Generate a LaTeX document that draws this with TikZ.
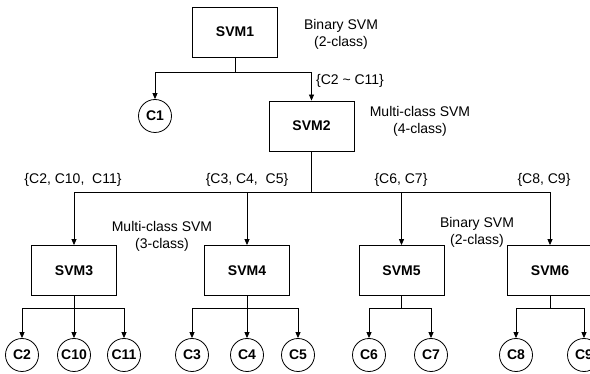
\documentclass[tikz,border=0pt]{standalone}
\usepackage{fontspec}
\setmainfont{Liberation Sans}
\usetikzlibrary{arrows.meta}
\begin{document}
\begin{tikzpicture}[x=1pt,y=-1pt,
  line width=0.8pt,
  svmbox/.style={draw, minimum width=85pt, minimum height=50pt, inner sep=0pt, font=\fontsize{14}{17}\selectfont\bfseries},
  cls/.style={draw, circle, minimum size=33pt, inner sep=0pt, font=\fontsize{14}{17}\selectfont\bfseries},
  lbl/.style={font=\fontsize{14}{17}\selectfont, inner sep=0pt, align=center},
  arr/.style={-{Triangle[length=6pt,width=5pt]}}]
\useasboundingbox (0,0) rectangle (590,374);
% SVM nodes
\node[svmbox] (svm1) at (235,32) {SVM1};
\node[svmbox] (svm2) at (311.5,126) {SVM2};
\node[svmbox] (svm3) at (74,270.5) {SVM3};
\node[svmbox] (svm4) at (247,270.5) {SVM4};
\node[svmbox] (svm5) at (401.5,270.5) {SVM5};
\node[svmbox] (svm6) at (550,270.5) {SVM6};
% class nodes
\node[cls] (c1) at (155,116) {C1};
\node[cls] (c2) at (22,355) {C2};
\node[cls] (c10) at (74,355) {C10};
\node[cls] (c11) at (124,355) {C11};
\node[cls] (c3) at (192,355) {C3};
\node[cls] (c4) at (247,355) {C4};
\node[cls] (c5) at (298,355) {C5};
\node[cls] (c6) at (369,355) {C6};
\node[cls] (c7) at (431,355) {C7};
\node[cls] (c8) at (516,355) {C8};
\node[cls] (c9) at (584,355) {C9};
% junctions
\coordinate (b1) at (235,72);
\coordinate (b2) at (311.5,192);
\coordinate (b3) at (74,308);
\coordinate (b4) at (247,308);
\coordinate (b5) at (401.5,308);
\coordinate (b6) at (550,308);
% connectors
\draw (svm1.south) -- (b1);
\draw[arr] (b1) -| (c1.north);
\draw[arr] (b1) -| (svm2.north);
\draw (svm2.south) -- (b2);
\draw[arr] (b2) -| (svm3.north);
\draw[arr] (b2) -| (svm4.north);
\draw[arr] (b2) -| (svm5.north);
\draw[arr] (b2) -| (svm6.north);
\draw (svm3.south) -- (b3);
\draw[arr] (b3) -| (c2.north);
\draw[arr] (b3) -- (c10.north);
\draw[arr] (b3) -| (c11.north);
\draw (svm4.south) -- (b4);
\draw[arr] (b4) -| (c3.north);
\draw[arr] (b4) -- (c4.north);
\draw[arr] (b4) -| (c5.north);
\draw (svm5.south) -- (b5);
\draw[arr] (b5) -| (c6.north);
\draw[arr] (b5) -| (c7.north);
\draw (svm6.south) -- (b6);
\draw[arr] (b6) -| (c8.north);
\draw[arr] (b6) -| (c9.north);
% labels
\node[lbl] (l1) at (341,34) {Binary SVM\\(2-class)};
\node[lbl] (l2) at (350,81) {\{C2 \textasciitilde{} C11\}};
\node[lbl] (l3) at (420,121) {Multi-class SVM\\(4-class)};
\node[lbl] (l4) at (73,180) {\{C2, C10, \ C11\}};
\node[lbl] (l5) at (247,180) {\{C3, C4, \ C5\}};
\node[lbl] (l6) at (401,180) {\{C6, C7\}};
\node[lbl] (l7) at (544,180) {\{C8, C9\}};
\node[lbl] (l8) at (162,236) {Multi-class SVM\\(3-class)};
\node[lbl] (l9) at (477,232) {Binary SVM\\(2-class)};
\end{tikzpicture}
\end{document}
